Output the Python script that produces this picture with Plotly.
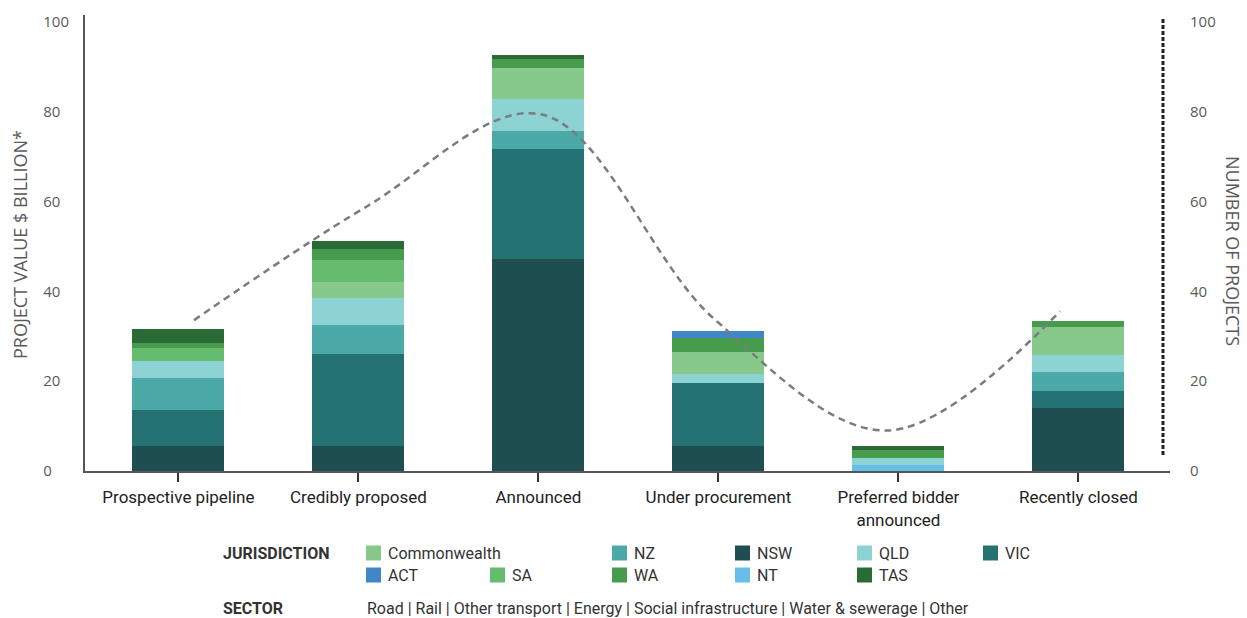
import plotly.graph_objects as go

categories = ["Prospective pipeline", "Credibly proposed", "Announced",
              "Under procurement", "Preferred bidder<br>announced", "Recently closed"]

# Project value, $ billion, by jurisdiction (stack order bottom -> top)
NT = [0, 0, 0, 0, 1.3, 0]
NSW = [5.6, 5.6, 47.2, 5.6, 0, 14.0]
VIC = [8.1, 20.4, 24.6, 14.1, 0, 3.9]
NZ = [7.1, 6.5, 4.0, 0, 0, 4.1]
QLD = [3.8, 6.0, 7.1, 2.0, 1.6, 3.9]
Commonwealth = [0, 3.6, 7.0, 4.8, 0, 6.2]
SA = [2.7, 5.0, 0, 0, 0, 0]
WA = [1.3, 2.3, 1.8, 3.1, 1.8, 1.4]
ACT = [0, 0, 0, 1.7, 0, 0]
TAS = [3.1, 1.8, 0.9, 0, 0.9, 0]

# Number of projects
num_projects = [33.6, 59, 79.5, 34, 9, 35.6]

y_ticks = [0, 20, 40, 60, 80, 100]

colors = {
    "Commonwealth": "#87c98a", "NZ": "#4ba9a7", "NSW": "#1f4e50", "QLD": "#8dd3d3",
    "VIC": "#247272", "ACT": "#3f87c7", "SA": "#65bc6f", "WA": "#479b4c",
    "NT": "#66bfe9", "TAS": "#2a6a35",
}

stack = [("NT", NT), ("NSW", NSW), ("VIC", VIC), ("NZ", NZ), ("QLD", QLD),
         ("Commonwealth", Commonwealth), ("SA", SA), ("WA", WA), ("ACT", ACT), ("TAS", TAS)]

fig = go.Figure()
for name, vals in stack:
    fig.add_trace(go.Bar(x=categories, y=vals, name=name, marker_color=colors[name],
                         marker_line_width=0, showlegend=False))

fig.add_trace(go.Scatter(x=categories, y=num_projects, mode="lines", xaxis="x2", yaxis="y2",
                         line=dict(color="#7b7b82", width=2.5, dash="7px,5px", shape="spline",
                                   smoothing=1.0),
                         showlegend=False, name="Number of projects"))

W, H = 1247, 618
L, R, T, B = 85, 77, 15, 147
PW, PH = W - L - R, H - T - B


def px(xp):
    return (xp - L) / PW


def py(yp):
    return (H - B - yp) / PH


ymax = 101.6
num_font = dict(family="Open Sans, Liberation Sans, sans-serif", size=15, color="#5a5a5a")
title_font = dict(family="Open Sans, sans-serif", size=18, color="#5a5a5a")

fig.update_layout(
    width=W, height=H, margin=dict(l=L, r=R, t=T, b=B),
    paper_bgcolor="white", plot_bgcolor="white",
    barmode="stack", bargap=0.489,
    xaxis=dict(type="category", range=[-0.519, 5.509], showline=True, linecolor="#555555",
               linewidth=2, ticks="outside", ticklen=9, tickwidth=2, tickcolor="#333333",
               tickfont=dict(family="Roboto, sans-serif", size=17, color="#222222"),
               ticklabelstandoff=1, showgrid=False, zeroline=False),
    xaxis2=dict(type="category", overlaying="x", range=[-0.629, 5.635], visible=False),
    yaxis=dict(range=[0, ymax], showline=True, linecolor="#555555", linewidth=2,
               tickvals=y_ticks,
               ticktext=[f"{v}" + "\u2007" * (3 - len(str(v))) for v in y_ticks],
               ticks="", tickfont=num_font, ticklabelstandoff=11,
               showgrid=False, zeroline=False),
    yaxis2=dict(range=[0, ymax], overlaying="y", side="right", showline=False,
                tickvals=y_ticks, ticktext=[str(v) for v in y_ticks], ticks="",
                tickfont=num_font, ticklabelstandoff=19, showgrid=False, zeroline=False),
)

shapes = [
    dict(type="line", xref="paper", yref="paper", x0=px(1163), x1=px(1163),
         y0=py(455), y1=py(18), line=dict(color="#222222", width=3, dash="4px,2px")),
]
annotations = [
    dict(text="PROJECT VALUE $ BILLION*", xref="paper", yref="paper", x=px(20), y=py(245),
         textangle=-90, showarrow=False, xanchor="center", yanchor="middle", font=title_font),
    dict(text="NUMBER OF PROJECTS", xref="paper", yref="paper", x=px(1233), y=py(251),
         textangle=90, showarrow=False, xanchor="center", yanchor="middle", font=title_font),
]

legend_font = dict(family="Roboto, sans-serif", size=16, color="#333333")
bold_font = dict(family="Roboto, sans-serif", size=16, color="#333333")

legend_rows = [
    (553, [("Commonwealth", 366), ("NZ", 612), ("NSW", 735), ("QLD", 857), ("VIC", 983)]),
    (575, [("ACT", 366), ("SA", 490), ("WA", 612), ("NT", 735), ("TAS", 857)]),
]
for yrow, items in legend_rows:
    for name, xs in items:
        shapes.append(dict(type="rect", xref="paper", yref="paper", x0=px(xs), x1=px(xs + 15),
                           y0=py(yrow + 7.5), y1=py(yrow - 7.5), fillcolor=colors[name],
                           line=dict(width=0)))
        annotations.append(dict(text=name, xref="paper", yref="paper", x=px(xs + 20), y=py(yrow),
                                xanchor="left", yanchor="middle", showarrow=False, font=legend_font))

annotations.append(dict(text="<b>JURISDICTION</b>", xref="paper", yref="paper", x=px(221), y=py(553),
                        xanchor="left", yanchor="middle", showarrow=False, font=bold_font))
annotations.append(dict(text="<b>SECTOR</b>", xref="paper", yref="paper", x=px(221), y=py(608),
                        xanchor="left", yanchor="middle", showarrow=False, font=bold_font))
annotations.append(dict(text="Road | Rail | Other transport | Energy | Social infrastructure | Water & sewerage | Other",
                        xref="paper", yref="paper", x=px(365), y=py(608),
                        xanchor="left", yanchor="middle", showarrow=False, font=legend_font))

fig.update_layout(shapes=shapes, annotations=annotations)
fig.write_html("out.html")
